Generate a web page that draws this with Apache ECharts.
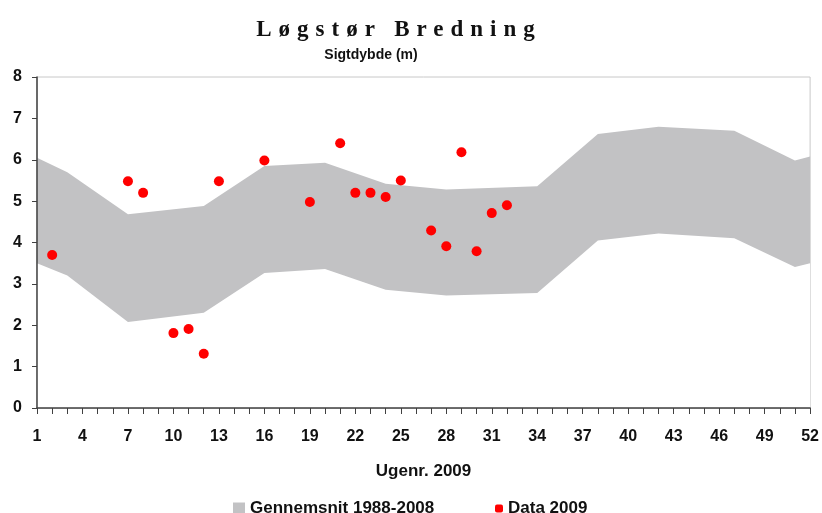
<!DOCTYPE html>
<html>
<head>
<meta charset="utf-8">
<script src="https://cdn.jsdelivr.net/npm/echarts@6/dist/echarts.min.js"></script>
<style>
  body { margin: 0; background: #fff; }
  #wrap { position: relative; width: 822px; height: 513px; }
  #chart { width: 822px; height: 513px; }
  #title {
    position: absolute; left: 0; top: 16px; width: 798px; text-align: center;
    font-family: 'Liberation Serif', 'DejaVu Serif', serif; font-weight: bold;
    font-size: 23px; letter-spacing: 7px; color: #111;
  }
</style>
</head>
<body>
<div id="wrap">
  <div id="chart"></div>
  <div id="title">Løgstør Bredning</div>
</div>
<script>
// band: average 1988-2008 (lower / upper edge per week)
const bandWeeks = [1, 3, 7, 12, 16, 20, 24, 28, 34, 38, 42, 47, 51, 52];
const bandUpper = [6.05, 5.70, 4.68, 4.88, 5.85, 5.93, 5.42, 5.28, 5.36, 6.62, 6.80, 6.70, 5.98, 6.08];
const bandLower = [3.50, 3.20, 2.08, 2.30, 3.26, 3.36, 2.86, 2.72, 2.78, 4.05, 4.22, 4.10, 3.41, 3.50];

// measurements 2009
const dataWeeks = [2, 7, 8, 10, 11, 12, 13, 16, 19, 21, 22, 23, 24, 25, 27, 28, 29, 30, 31, 32];
const dataValues = [3.70, 5.48, 5.20, 1.81, 1.91, 1.31, 5.48, 5.98, 4.98, 6.40, 5.20, 5.20, 5.10, 5.50, 4.29, 3.91, 6.18, 3.79, 4.71, 4.90];

const xLabelStep = 3;
const bandColor = '#c2c2c4';
const axisColor = '#404040';
const font = "'Liberation Sans', Arial, sans-serif";
const legendText = { fontFamily: font, fontSize: 17, fontWeight: 'bold', color: '#111' };

const chart = echarts.init(document.getElementById('chart'));

chart.setOption({
  animation: false,
  backgroundColor: '#fff',
  title: {
    text: 'Sigtdybde (m)',
    left: 366, top: 43, textAlign: 'center',
    textStyle: { fontFamily: font, fontSize: 14, fontWeight: 'bold', color: '#111' }
  },
  grid: {
    left: 37, right: 10, top: 77, bottom: 105,
    show: true, borderColor: '#c8c8c8', borderWidth: 1
  },
  legend: [
    {
      left: 228, top: 495, itemWidth: 12, itemHeight: 12,
      textStyle: legendText,
      data: [{ name: 'Gennemsnit 1988-2008', icon: 'rect', itemStyle: { color: bandColor } }]
    },
    {
      left: 490, top: 495, itemWidth: 8, itemHeight: 8,
      textStyle: legendText,
      data: [{ name: 'Data 2009', icon: 'roundRect', itemStyle: { color: '#ff0000' } }]
    }
  ],
  xAxis: {
    type: 'value', min: 1, max: 52, interval: 1, z: 10,
    name: 'Ugenr. 2009', nameLocation: 'middle', nameGap: 55,
    nameTextStyle: { fontFamily: font, fontSize: 17, fontWeight: 'bold', color: '#111' },
    axisLine: { lineStyle: { color: axisColor, width: 1.5 } },
    axisTick: { length: 6, lineStyle: { color: axisColor } },
    splitLine: { show: false },
    axisLabel: {
      margin: 21, fontFamily: font, fontSize: 16, fontWeight: 'bold', color: '#111',
      formatter: (v) => ((v - 1) % xLabelStep === 0 ? String(v) : '')
    }
  },
  yAxis: {
    type: 'value', min: 0, max: 8, interval: 1, z: 10,
    axisLine: { show: true, lineStyle: { color: axisColor, width: 1.5 } },
    axisTick: { show: true, length: 5, lineStyle: { color: axisColor } },
    splitLine: { show: false },
    axisLabel: { margin: 15, fontFamily: font, fontSize: 16, fontWeight: 'bold', color: '#111' }
  },
  series: [
    {
      // upper edge, filled grey down to the axis
      name: 'Gennemsnit 1988-2008',
      type: 'line',
      data: bandWeeks.map((w, i) => [w, bandUpper[i]]),
      symbol: 'none',
      itemStyle: { color: bandColor },
      lineStyle: { width: 0, opacity: 0 },
      areaStyle: { color: bandColor, opacity: 1 },
      z: 1
    },
    {
      // lower edge, white fill cuts the band out
      name: 'band-lower',
      type: 'line',
      data: bandWeeks.map((w, i) => [w, bandLower[i]]),
      symbol: 'none',
      lineStyle: { width: 0, opacity: 0 },
      areaStyle: { color: '#fff', opacity: 1 },
      silent: true,
      z: 2
    },
    {
      name: 'Data 2009',
      type: 'scatter',
      data: dataWeeks.map((w, i) => [w, dataValues[i]]),
      symbol: 'circle',
      symbolSize: 10,
      itemStyle: { color: '#ff0000', opacity: 1 },
      z: 5
    }
  ]
});
</script>
</body>
</html>
